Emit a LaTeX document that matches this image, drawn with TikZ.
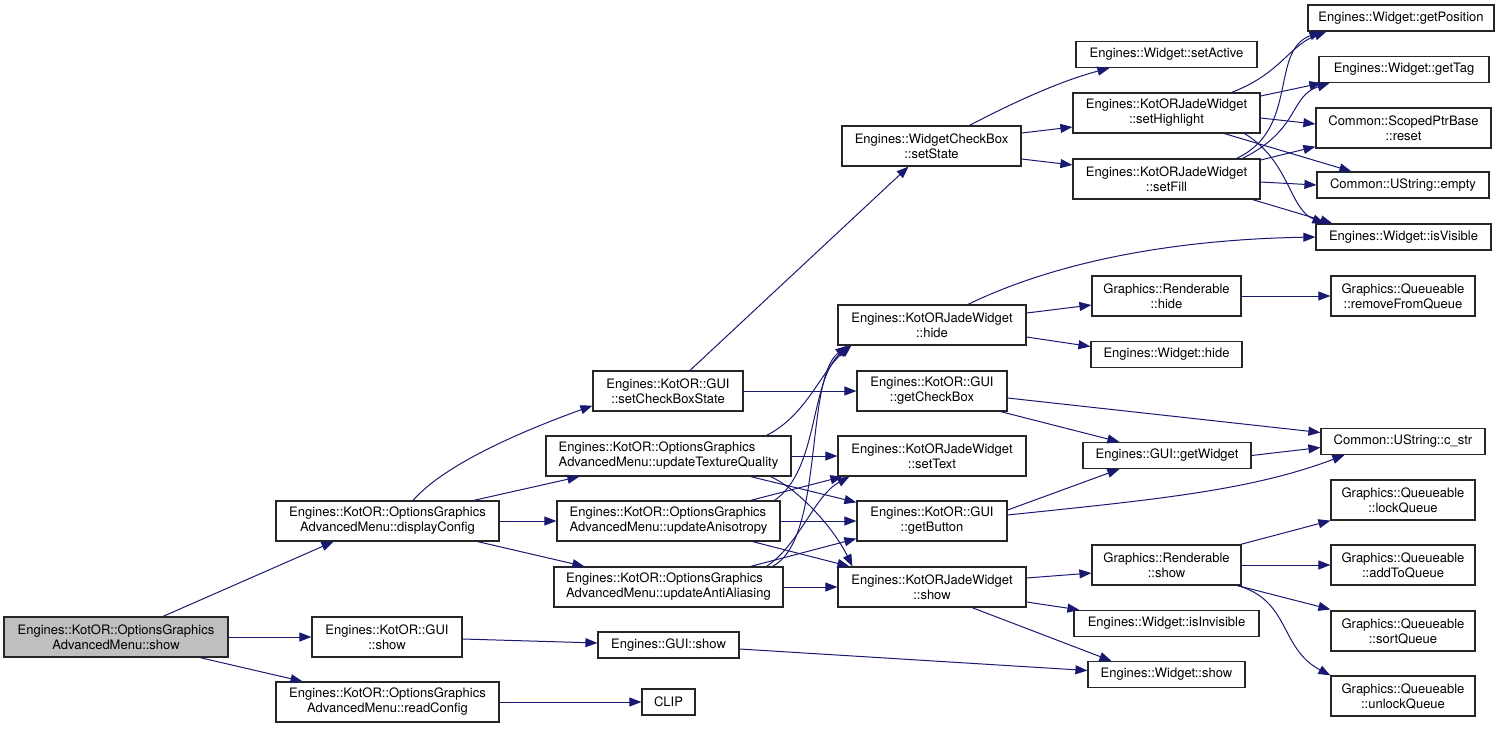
\documentclass[tikz,border=0pt]{standalone}
\usepackage{fontspec}
\setmainfont{TeX Gyre Heros}
\usetikzlibrary{arrows.meta,calc}
\definecolor{edgeblue}{HTML}{191970}
\definecolor{rootgray}{HTML}{BFBFBF}

\begin{document}
\begin{tikzpicture}[x=1pt, y=-1pt, line width=1pt, >={Triangle[length=12pt,width=9pt]},
  fn/.style={draw=black!85, line width=1.2pt, fill=white, align=center, inner sep=0pt, minimum height=40, font=\fontsize{13}{15}\selectfont},
  fn1/.style={fn, minimum height=26},
  call/.style={->, draw=edgeblue, line width=1pt}]
  \useasboundingbox (0,0) rectangle (1504,729);

  % first two columns
  \node[fn, fill=rootgray, minimum width=224] (showm) at (116,637) {Engines::KotOR::OptionsGraphics\\AdvancedMenu::show};
  \node[fn, minimum width=223] (dispcfg) at (387.5,521) {Engines::KotOR::OptionsGraphics\\AdvancedMenu::displayConfig};
  \node[fn, minimum width=150] (kguishow) at (387,637) {Engines::KotOR::GUI\\::show};
  \node[fn, minimum width=223] (readcfg) at (387.5,702) {Engines::KotOR::OptionsGraphics\\AdvancedMenu::readConfig};
  \node[fn, minimum width=150] (setcbs) at (668,391) {Engines::KotOR::GUI\\::setCheckBoxState};
  \node[fn, align=left, minimum width=245] (updtex) at (668.5,456) {Engines::KotOR::OptionsGraphics\\AdvancedMenu::updateTextureQuality};
  \node[fn, align=left, minimum width=223] (updaniso) at (668.5,521) {Engines::KotOR::OptionsGraphics\\AdvancedMenu::updateAnisotropy};
  \node[fn, align=left, minimum width=229] (updaa) at (668.5,587) {Engines::KotOR::OptionsGraphics\\AdvancedMenu::updateAntiAliasing};
  \node[fn1, minimum width=141] (guishow) at (668.5,645) {Engines::GUI::show};
  \node[fn1, minimum width=53] (clip) at (668.5,702) {CLIP};

  % third column
  \node[fn, minimum width=179] (setstate) at (931.5,146) {Engines::WidgetCheckBox\\::setState};
  \node[fn, minimum width=188] (jhide) at (932,325) {Engines::KotORJadeWidget\\::hide};
  \node[fn, minimum width=150] (getcb) at (932,391) {Engines::KotOR::GUI\\::getCheckBox};
  \node[fn, minimum width=188] (settext) at (932,456) {Engines::KotORJadeWidget\\::setText};
  \node[fn, minimum width=150] (getbtn) at (932,521) {Engines::KotOR::GUI\\::getButton};
  \node[fn, minimum width=188] (jshow) at (932,587) {Engines::KotORJadeWidget\\::show};

  % fourth column
  \node[fn1, minimum width=181] (setactive) at (1166.5,54.5) {Engines::Widget::setActive};
  \node[fn, minimum width=187] (sethl) at (1166.5,113) {Engines::KotORJadeWidget\\::setHighlight};
  \node[fn, minimum width=187] (setfill) at (1166.5,179) {Engines::KotORJadeWidget\\::setFill};
  \node[fn, minimum width=149] (rhide) at (1166.5,296) {Graphics::Renderable\\::hide};
  \node[fn1, minimum width=151] (whide) at (1166.5,354.5) {Engines::Widget::hide};
  \node[fn1, minimum width=168] (getwidget) at (1167,455.5) {Engines::GUI::getWidget};
  \node[fn, minimum width=149] (rshow) at (1166.5,565) {Graphics::Renderable\\::show};
  \node[fn1, minimum width=185] (isinvis) at (1166.5,623.5) {Engines::Widget::isInvisible};
  \node[fn1, minimum width=157] (wshow) at (1166.5,674.5) {Engines::Widget::show};

  % last column
  \node[fn1, minimum width=186] (getpos) at (1401,18) {Engines::Widget::getPosition};
  \node[fn1, minimum width=170] (gettag) at (1404,69.5) {Engines::Widget::getTag};
  \node[fn, minimum width=175] (reset) at (1403.5,128) {Common::ScopedPtrBase\\::reset};
  \node[fn1, minimum width=172] (empty) at (1403,185) {Common::UString::empty};
  \node[fn1, minimum width=175] (isvis) at (1403.5,237) {Engines::Widget::isVisible};
  \node[fn, minimum width=144] (remq) at (1403,296) {Graphics::Queueable\\::removeFromQueue};
  \node[fn1, minimum width=164] (cstr) at (1403,441.5) {Common::UString::c\_str};
  \node[fn, minimum width=144] (lockq) at (1403,500) {Graphics::Queueable\\::lockQueue};
  \node[fn, minimum width=144] (addq) at (1403,565) {Graphics::Queueable\\::addToQueue};
  \node[fn, minimum width=144] (sortq) at (1403,631) {Graphics::Queueable\\::sortQueue};
  \node[fn, minimum width=144] (unlockq) at (1403,696) {Graphics::Queueable\\::unlockQueue};

  % calls from the root
  \draw[call] ($(showm.north)+(47,0)$) -- ($(dispcfg.south)+(-54,0)$);
  \draw[call] (showm.east) -- (kguishow.west);
  \draw[call] ($(showm.south)+(84,0)$) -- ($(readcfg.north)+(-85,0)$);
  \draw[call] ($(kguishow.east)+(0,2)$) -- ($(guishow.west)+(0,-2)$);
  \draw[call] (readcfg.east) -- (clip.west);
  \draw[call] ($(guishow.east)+(0,4)$) -- ($(wshow.west)+(0,-4)$);

  % displayConfig
  \draw[call] ($(dispcfg.north)+(25.5,0)$) .. controls +(35,-40) and +(-55,20) .. ($(setcbs.south west)+(0,-6)$);
  \draw[call] ($(dispcfg.north east)+(-26,0)$) -- ($(updtex.south west)+(34,0)$);
  \draw[call] (dispcfg.east) -- (updaniso.west);
  \draw[call] ($(dispcfg.south east)+(-22,0)$) -- ($(updaa.north west)+(31,0)$);

  \draw[call] ($(setcbs.north)+(22,0)$) -- ($(setstate.south)+(-23,0)$);
  \draw[call] (setcbs.east) -- (getcb.west);

  % the three update functions
  \draw[call] ($(updtex.north)+(98,0)$) .. controls +(40,-20) and +(-30,25) .. ($(jhide.south west)+(14,0)$);
  \draw[call] (updtex.east) -- (settext.west);
  \draw[call] ($(updtex.south east)+(-41,0)$) -- ($(getbtn.north west)+(0,2)$);
  \draw[call] ($(updtex.south east)+(-21,0)$) .. controls +(30,14) and +(-18,-37) .. ($(jshow.north west)+(15,0)$);

  \draw[call] ($(updaniso.north)+(106,0)$) .. controls +(45,-31) and +(-40,34) .. ($(jhide.south west)+(12,0)$);
  \draw[call] ($(updaniso.north east)+(-30,0)$) -- ($(settext.south west)+(5,0)$);
  \draw[call] (updaniso.east) -- (getbtn.west);
  \draw[call] ($(updaniso.south east)+(-28,0)$) -- ($(jshow.north west)+(12,0)$);

  \draw[call] ($(updaa.north)+(104,0)$) .. controls +(52,-27) and +(-43,34) .. ($(jhide.south west)+(10,0)$);
  \draw[call] ($(updaa.north)+(98,0)$) .. controls +(33,-22) and +(-35,19) .. ($(settext.south west)+(12,0)$);
  \draw[call] ($(updaa.north east)+(-33,0)$) -- ($(getbtn.south west)+(0,-3)$);
  \draw[call] (updaa.east) -- (jshow.west);

  % setState and below
  \draw[call] ($(setstate.north)+(38,0)$) .. controls +(40,-21) and +(-50,13) .. ($(setactive.south west)+(34,0)$);
  \draw[call] ($(setstate.east)+(0,-13)$) -- ($(sethl.west)+(0,14)$);
  \draw[call] ($(setstate.east)+(0,13)$) -- ($(setfill.west)+(0,-14)$);

  \draw[call] ($(sethl.north)+(65,0)$) .. controls +(48,-18) and +(-37,14) .. ($(getpos.south west)+(19,0)$);
  \draw[call] ($(sethl.east)+(0,-17)$) -- ($(gettag.south west)+(3,0)$);
  \draw[call] ($(sethl.east)+(0,5)$) -- ($(reset.west)+(0,-4)$);
  \draw[call] ($(sethl.south)+(58,0)$) -- ($(empty.north west)+(35,0)$);
  \draw[call] ($(sethl.south)+(78,0)$) .. controls +(45,27) and +(-35,-14) .. ($(isvis.north west)+(9,0)$);

  \draw[call] ($(setfill.north)+(70,0)$) .. controls +(63,-29) and +(-52,19) .. ($(getpos.south west)+(14,0)$);
  \draw[call] ($(setfill.north)+(76,0)$) .. controls +(58,-29) and +(-40,13) .. ($(gettag.south west)+(11,0)$);
  \draw[call] ($(setfill.east)+(0,-19)$) -- ($(reset.south west)+(0,-2)$);
  \draw[call] ($(setfill.east)+(0,3)$) -- (empty.west);
  \draw[call] ($(setfill.south east)+(-8,0)$) -- ($(isvis.north west)+(17,0)$);

  \draw[call] ($(jhide.north)+(36,0)$) .. controls +(72,-35) and +(-166,3) .. (isvis.west);
  \draw[call] ($(jhide.east)+(0,-12)$) -- ($(rhide.west)+(0,9)$);
  \draw[call] ($(jhide.east)+(0,12)$) -- ($(whide.west)+(0,-8)$);
  \draw[call] (rhide.east) -- (remq.west);

  \draw[call] ($(getcb.east)+(0,7)$) -- ($(cstr.west)+(0,-9)$);
  \draw[call] ($(getcb.south east)+(-7,0)$) -- ($(getwidget.north west)+(37,0)$);
  \draw[call] ($(getbtn.east)+(0,-11)$) -- ($(getwidget.south west)+(37,0)$);
  \draw[call] ($(getbtn.east)+(0,-6)$) .. controls +(143,-15) and +(-95,36) .. ($(cstr.south west)+(24,0)$);
  \draw[call] (getwidget.east) -- ($(cstr.west)+(0,6)$);

  \draw[call] ($(jshow.east)+(0,-9)$) -- ($(rshow.west)+(0,8)$);
  \draw[call] ($(jshow.east)+(0,15)$) -- ($(isinvis.north west)+(6,0)$);
  \draw[call] ($(jshow.south)+(40,0)$) -- ($(wshow.north west)+(24,0)$);

  \draw[call] ($(rshow.north east)+(-1,0)$) -- (lockq.south west);
  \draw[call] (rshow.east) -- (addq.west);
  \draw[call] ($(rshow.south east)+(-4,0)$) -- ($(sortq.north west)+(0,-1)$);
  \draw[call] ($(rshow.south east)+(-4,0)$) .. controls +(53,15) and +(-51,-27) .. (unlockq.north west);
\end{tikzpicture}
\end{document}
